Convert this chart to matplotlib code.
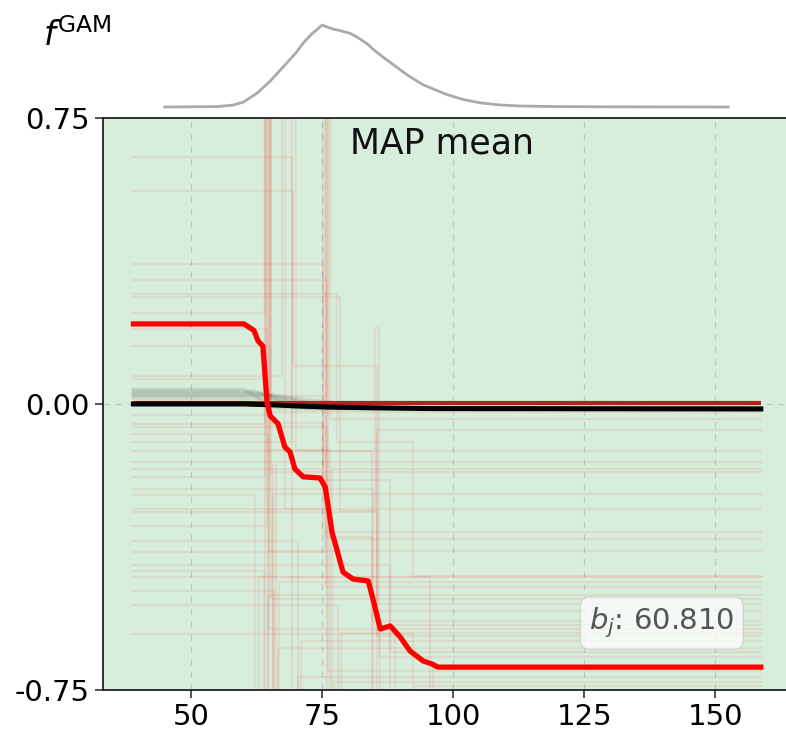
import matplotlib
matplotlib.use("Agg")
import matplotlib.pyplot as plt
import numpy as np

# ---- data ----
# density of the feature (top strip), normalised to peak 1
dens_x = [45.0, 55.0, 58.0, 60.0, 62.6, 65.0, 67.6, 70.0, 71.4, 73.0, 74.3, 75.0, 75.8,
          77.1, 78.5, 80.3, 82.0, 83.6, 85.0, 86.6, 88.5, 90.0, 91.5, 93.0, 94.3, 96.2,
          98.9, 102.0, 105.2, 109.0, 112.8, 120.0, 130.0, 152.5]
dens_y = [0.0, 0.005, 0.024, 0.06, 0.17, 0.31, 0.49, 0.66, 0.78, 0.89, 0.96, 1.0, 0.98,
          0.95, 0.93, 0.90, 0.84, 0.77, 0.69, 0.61, 0.52, 0.45, 0.38, 0.32, 0.27, 0.22,
          0.15, 0.09, 0.05, 0.025, 0.012, 0.005, 0.002, 0.0]

# MAP mean shape function (thick red)
map_x = [39.0, 60.1, 62.0, 62.8, 63.7, 64.5, 65.1, 66.6, 67.9, 68.9, 69.8, 71.4, 74.6,
         75.6, 76.9, 79.0, 80.9, 83.8, 84.7, 86.1, 88.0, 89.9, 91.8, 94.3, 96.0, 97.1, 158.7]
map_y = [0.210, 0.210, 0.193, 0.165, 0.152, 0.005, -0.031, -0.052, -0.113, -0.126, -0.170,
         -0.191, -0.194, -0.218, -0.336, -0.441, -0.459, -0.464, -0.511, -0.590, -0.582,
         -0.611, -0.648, -0.674, -0.682, -0.690, -0.690]

# mean of the other model (thick black) and thin red reference near zero
blk_x = [39.0, 60.0, 65.0, 70.0, 76.0, 85.0, 95.0, 158.7]
blk_y = [0.0, 0.0, -0.002, -0.005, -0.008, -0.010, -0.012, -0.013]
zred_x = [39.0, 158.7]
zred_y = [0.002, 0.002]

# faint red posterior samples: left level, first jump, middle level, second jump, right level
red_left = [0.648, 0.558, 0.367, 0.325, 0.288, 0.280, 0.239, 0.197, 0.152, 0.073, 0.066,
            -0.052, -0.060, -0.079, -0.100, -0.123, -0.152, -0.170, -0.191, -0.223, -0.239,
            -0.275, -0.283, -0.320, -0.359, -0.388, -0.422, -0.438, -0.454, -0.490, -0.527,
            -0.603, -0.030, 0.020]
red_x1 = [69.3, 69.5, 75.2, 76.0, 77.9, 78.4, 64.1, 64.5, 65.0, 67.4, 64.1,
          64.1, 76.0, 64.7, 69.3, 84.5, 65.6, 75.2, 64.1, 84.8, 62.2,
          76.5, 85.0, 64.4, 70.4, 75.5, 88.0, 64.0, 95.6, 65.8, 78.0,
          92.4, 64.5, 76.0]
red_mid = [-0.85, 0.10, -0.20, -0.35, -0.10, -0.28, 0.95, -0.12, -0.05, 0.90, -0.95,
           0.95, -0.90, -0.95, 0.90, -0.95, -0.95, 0.95, 0.95, -0.95, -0.90,
           -0.95, 0.20, 0.95, -0.95, 0.95, -0.95, -0.95, -0.95, -0.95, -0.95,
           -0.95, 0.95, 0.95]
red_x2 = [70.4, 85.5, 88.0, 84.5, 92.4, 85.5, 64.8, 76.5, 75.2, 67.9, 65.6,
          65.0, 76.8, 66.2, 70.0, 85.5, 66.8, 75.8, 65.2, 86.0, 63.0,
          77.2, 85.8, 64.9, 71.0, 76.2, 89.0, 64.6, 96.2, 66.5, 78.6,
          93.0, 65.3, 76.6]
red_right = [-0.716, -0.608, -0.650, -0.569, -0.451, -0.524, -0.385, -0.354, -0.336, -0.275,
             -0.236, -0.178, -0.170, -0.152, -0.123, -0.068, -0.467, -0.480, -0.511, -0.543,
             -0.454, -0.729, -0.663, -0.590, -0.622, -0.700, -0.580, -0.500, -0.690, -0.640,
             -0.600, -0.740, -0.020, -0.040]

# faint black samples: left level, start of decline, end of decline
blk_left = [0.039, 0.034, 0.030, 0.026, 0.022, 0.015]
blk_x1 = [60.0, 62.0, 63.0, 64.0, 65.0, 66.0]
blk_x2 = [66.0, 70.0, 78.0, 85.0, 72.0, 80.0]
blk_right = [-0.010, -0.011, -0.012, -0.010, -0.013, -0.011]

x_start, x_end = 39.0, 158.7
xticks = [50, 75, 100, 125, 150]
yticks = [-0.75, 0.0, 0.75]
ytick_labels = ["-0.75", "0.00", "0.75"]

# ---- figure ----
W, H = 786, 734
fig = plt.figure(figsize=(W / 100, H / 100), dpi=100)

left = 103 / W
width = 684 / W
ax = fig.add_axes([left, 1 - 690 / H, width, 572 / H])
axd = fig.add_axes([left, 1 - 107 / H, width, 82 / H])

xlim = (33.2, 163.7)

ax.set_facecolor("#d6eedb")
ax.set_xlim(*xlim)
ax.set_ylim(-0.75, 0.75)

# grid
for xt in xticks:
    ax.axvline(xt, color="#c4c4c4", lw=0.9, ls=(0, (5, 5)), zorder=0.5)
ax.axhline(0.0, color="#c4c4c4", lw=0.9, ls=(0, (5, 5)), zorder=0.5)

# faint red samples
for l, a, m, b, r in zip(red_left, red_x1, red_mid, red_x2, red_right):
    ax.plot([x_start, a, b, x_end], [l, m, r, r], drawstyle="steps-post",
            color="red", alpha=0.075, lw=1.6, zorder=1)

# faint black samples
for l, a, b, r in zip(blk_left, blk_x1, blk_x2, blk_right):
    ax.plot([x_start, a, b, x_end], [l, l, r, r], color="black", alpha=0.08, lw=2.5, zorder=1.5)

ax.plot(zred_x, zred_y, color="#b52020", lw=3.0, zorder=2.5, solid_capstyle="butt")
ax.plot(blk_x, blk_y, color="black", lw=3.6, zorder=2.6)
ax.plot(map_x, map_y, color="red", lw=3.8, zorder=3)

ax.set_xticks(xticks)
ax.set_yticks(yticks)
ax.set_yticklabels(ytick_labels)
ax.tick_params(labelsize=21, length=6, width=1.2, color="#333333")
for s in ["left", "bottom", "top"]:
    ax.spines[s].set_color("#222222")
    ax.spines[s].set_linewidth(1.3)
ax.spines["right"].set_visible(False)

ax.text(0.495, 0.955, "MAP mean", transform=ax.transAxes, ha="center", va="center",
        fontsize=25, color="#111111", zorder=5)

ax.text(0.817, 0.117, "$b_j$: 60.810", transform=ax.transAxes, ha="center", va="center",
        fontsize=21, color="#555555", zorder=6,
        bbox=dict(boxstyle="round,pad=0.3", facecolor="white", edgecolor="#cccccc",
                  alpha=0.75))

# density strip
axd.plot(dens_x, dens_y, color="#aaaaaa", lw=2.0, clip_on=False)
axd.set_xlim(*xlim)
axd.set_ylim(0, 1)
axd.axis("off")

fig.text(43 / W, 1 - 36 / H, r"$f^{\mathrm{GAM}}$", fontsize=24, ha="left", va="center")

fig.savefig("out.png", dpi=100)
